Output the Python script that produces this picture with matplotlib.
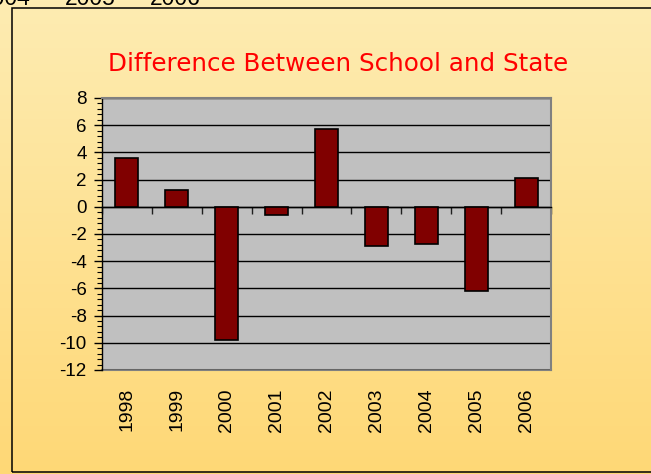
import numpy as np
import matplotlib
matplotlib.use("Agg")
import matplotlib.pyplot as plt
from matplotlib.patches import Rectangle
from matplotlib.ticker import MultipleLocator, FixedLocator

years = ["1998", "1999", "2000", "2001", "2002", "2003", "2004", "2005", "2006"]
diff = [3.6, 1.2, -9.8, -0.6, 5.7, -2.9, -2.7, -6.2, 2.1]
title = "Difference Between School and State"
top_fragments = ["2004", "2005", "2006"]

plt.rcParams["axes.unicode_minus"] = False

W, H = 651, 474
fig = plt.figure(figsize=(W / 100, H / 100), dpi=100)

# gradient background
bg = fig.add_axes([0, 0, 1, 1], zorder=-10)
top_c = np.array([253, 236, 178]) / 255
bot_c = np.array([255, 216, 118]) / 255
t = np.linspace(0, 1, 256)[:, None]
grad = top_c[None, None, :] * (1 - t[..., None]) + bot_c[None, None, :] * t[..., None]
grad = np.repeat(grad, 2, axis=1)
bg.imshow(grad, aspect="auto", extent=[0, 1, 0, 1], origin="upper")
bg.set_xlim(0, 1)
bg.set_ylim(0, 1)
bg.axis("off")

# border box (open on the right)
fig.patches.append(Rectangle((12 / W, 1 - 472 / H), 700 / W, (472 - 8) / H,
                             transform=fig.transFigure, fill=False,
                             edgecolor="black", linewidth=1.1, zorder=5))

# cut-off text at top
for i, s in enumerate(top_fragments):
    fig.text((-20 + 85 * i) / W, 1 - 5 / H, s, fontsize=16.5,
             family="Liberation Sans", va="baseline", ha="left", color="black")

ax = fig.add_axes([102 / W, 1 - 370 / H, (551 - 102) / W, (370 - 98) / H])
ax.set_facecolor("#C0C0C0")
x = np.arange(len(years))
ax.bar(x, diff, width=0.46, color="#800000", edgecolor="black", linewidth=1.2, zorder=3)

ax.set_xlim(-0.5, len(years) - 0.5)
ax.set_ylim(-12, 8)
ax.yaxis.set_major_locator(MultipleLocator(2))
ax.yaxis.set_minor_locator(MultipleLocator(0.4))
ax.grid(axis="y", which="major", color="black", linewidth=1.0, zorder=1)
ax.set_axisbelow(True)
ax.tick_params(axis="y", which="major", length=6, width=1, direction="out", pad=5,
               labelsize=13.5)
ax.tick_params(axis="y", which="minor", length=3.5, width=0.8, direction="out")
for lab in ax.get_yticklabels():
    lab.set_family("Liberation Sans")

# bottom spine at zero with boundary ticks
ax.spines["bottom"].set_position(("data", 0))
ax.spines["bottom"].set_linewidth(1.0)
ax.xaxis.set_major_locator(FixedLocator(np.arange(-0.5, len(years), 1.0)))
ax.tick_params(axis="x", which="major", length=5, width=1, direction="out",
               labelbottom=False, color="#202020")
for sp in ["top", "right"]:
    ax.spines[sp].set_color("#808080")
    ax.spines[sp].set_linewidth(1.5)
ax.spines["left"].set_linewidth(1.0)

sec = ax.secondary_xaxis("bottom")
sec.set_xticks(x)
sec.set_xticklabels(years, rotation=90, fontsize=14, family="Liberation Sans")
sec.tick_params(length=0, pad=13)
sec.spines["bottom"].set_color("#808080")
sec.spines["bottom"].set_linewidth(1.5)

fig.text(338 / W, 1 - 64 / H, title, color="#FF0000", fontsize=17.7,
         family="DejaVu Sans", ha="center", va="center")

fig.savefig("out.png", dpi=100)
